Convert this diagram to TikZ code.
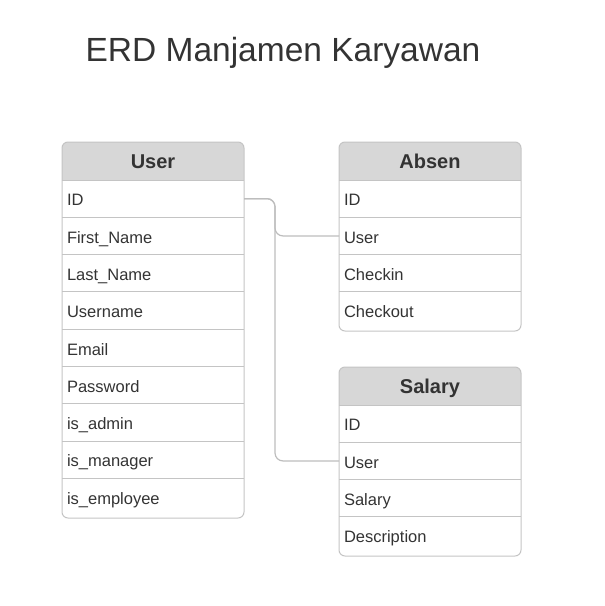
\documentclass[tikz,border=0pt]{standalone}
\usepackage{fontspec}
\setmainfont{Liberation Sans}
\definecolor{bordc}{HTML}{C4C4C4}
\definecolor{hdrc}{HTML}{D7D7D7}
\definecolor{txtc}{HTML}{333333}
\definecolor{connc}{HTML}{BDBDBD}
\tikzset{
  rowbox/.style={anchor=north west, minimum height=37.3pt, text width=172pt,
    inner xsep=5pt, inner ysep=0pt, outer sep=0pt, text height=14.4pt, text depth=0pt,
    align=left, text=txtc, font=\fontsize{16.5}{18}\selectfont},
  hdrbox/.style={minimum height=38pt, minimum width=182pt, inner sep=0pt, outer sep=0pt,
    text height=15pt, text depth=0pt, text=txtc, font=\fontsize{20}{22}\selectfont\bfseries},
  sepline/.style={draw=bordc, line width=1pt},
  tblframe/.style={draw=bordc, line width=1pt, rounded corners=6pt},
  conn/.style={draw=connc, line width=1.2pt, rounded corners=8pt},
  titletext/.style={anchor=base, text=txtc, font=\fontsize{33.5}{36}\selectfont, inner sep=0pt}
}
\begin{document}
\begin{tikzpicture}[x=1pt,y=-1pt]
\useasboundingbox (0,0) rectangle (605,606);
\node[titletext] (title) at (283,61) {ERD Manjamen Karyawan};

% User table
\begin{scope}
\clip[rounded corners=6pt] (62,142) rectangle (244,518);
\fill[hdrc] (62,142) rectangle (244,180);
\end{scope}
\node[hdrbox] (user) at (153,161) {User};
\foreach \t [count=\i] in {ID,First\_Name,Last\_Name,Username,Email,Password,is\_admin,is\_manager,is\_employee} {
  \node[rowbox] (u\i) at (62,{180+(\i-1)*37.3}) {\t};
  \draw[sepline] (u\i.north west) -- (u\i.north east);
}
\draw[tblframe] (62,142) rectangle (244,518);

% Absen table
\begin{scope}
\clip[rounded corners=6pt] (339,142) rectangle (521,331);
\fill[hdrc] (339,142) rectangle (521,180);
\end{scope}
\node[hdrbox] (absen) at (430,161) {Absen};
\foreach \t [count=\i] in {ID,User,Checkin,Checkout} {
  \node[rowbox] (a\i) at (339,{180+(\i-1)*37.3}) {\t};
  \draw[sepline] (a\i.north west) -- (a\i.north east);
}
\draw[tblframe] (339,142) rectangle (521,331);

% Salary table
\begin{scope}
\clip[rounded corners=6pt] (339,367) rectangle (521,556);
\fill[hdrc] (339,367) rectangle (521,405);
\end{scope}
\node[hdrbox] (salary) at (430,386) {Salary};
\foreach \t [count=\i] in {ID,User,Salary,Description} {
  \node[rowbox] (s\i) at (339,{405+(\i-1)*37.3}) {\t};
  \draw[sepline] (s\i.north west) -- (s\i.north east);
}
\draw[tblframe] (339,367) rectangle (521,556);

% connectors
\draw[conn] (u1.east) -- ++(31,0) |- (a2.west);
\draw[conn] (u1.east) -- ++(31,0) |- (s2.west);
\end{tikzpicture}
\end{document}
